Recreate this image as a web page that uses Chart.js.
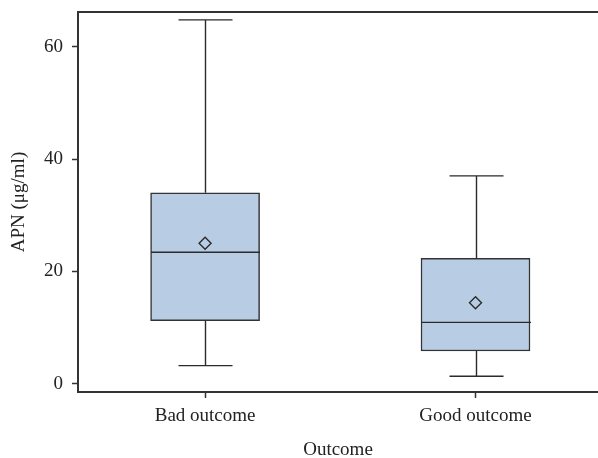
<!DOCTYPE html>
<html>
<head>
<meta charset="utf-8">
<script src="https://cdn.jsdelivr.net/npm/chart.js@4"></script>
<style>
  body { margin: 0; background: #fff; }
</style>
</head>
<body>
<canvas id="chart1" width="598" height="458"></canvas>
<script>
// data
const groups = ['Bad outcome', 'Good outcome'];
const groupPos = [1, 2];
const whiskerLow = [3.2, 1.3];
const q1 = [11.2, 5.8];
const median = [23.4, 10.9];
const q3 = [34.0, 22.3];
const whiskerHigh = [64.8, 37.0];
const means = [25.0, 14.4];
const yTicks = [0, 20, 40, 60];

const ink = '#2b2b2b';
const boxFill = '#b8cde4';
const boxWidth = 109;
const capHalf = 27;
const font = { family: '"Liberation Serif", "Times New Roman", serif', size: 19 };

// whiskers, caps, median lines + top frame line
const boxPlotLines = {
  id: 'boxPlotLines',
  afterDatasetsDraw(chart) {
    const ctx = chart.ctx;
    const xs = chart.scales.x;
    const ys = chart.scales.y;
    const area = chart.chartArea;
    ctx.save();
    ctx.strokeStyle = ink;
    ctx.lineWidth = 1.4;
    for (let i = 0; i < groups.length; i++) {
      const x = Math.round(xs.getPixelForValue(groupPos[i])) + 0.5;
      const yLow = ys.getPixelForValue(whiskerLow[i]);
      const yQ1 = ys.getPixelForValue(q1[i]);
      const yMed = ys.getPixelForValue(median[i]);
      const yQ3 = ys.getPixelForValue(q3[i]);
      const yHigh = ys.getPixelForValue(whiskerHigh[i]);
      ctx.beginPath();
      ctx.moveTo(x, yQ3); ctx.lineTo(x, yHigh);
      ctx.moveTo(x - capHalf, yHigh); ctx.lineTo(x + capHalf, yHigh);
      ctx.moveTo(x, yQ1); ctx.lineTo(x, yLow);
      ctx.moveTo(x - capHalf, yLow); ctx.lineTo(x + capHalf, yLow);
      ctx.moveTo(x - boxWidth / 2, yMed); ctx.lineTo(x + boxWidth / 2, yMed);
      ctx.stroke();
    }
    ctx.lineWidth = 2;
    ctx.strokeStyle = '#333';
    ctx.beginPath();
    ctx.moveTo(area.left, area.top);
    ctx.lineTo(chart.width, area.top);
    ctx.stroke();
    ctx.restore();
  }
};

const boxData = groups.map((g, i) => ({ x: groupPos[i], y: [q1[i], q3[i]] }));
const meanData = groups.map((g, i) => ({ x: groupPos[i], y: means[i] }));

function noLabelPadding(scale) {
  scale.paddingTop = 0;
  scale.paddingBottom = 0;
  scale.paddingLeft = 0;
  scale.paddingRight = 0;
}

const config = {
  type: 'bar',
  data: {
    datasets: [
      {
        type: 'scatter',
        data: meanData,
        pointStyle: 'rectRot',
        radius: 6,
        borderColor: ink,
        backgroundColor: 'rgba(0,0,0,0)',
        borderWidth: 1.4
      },
      {
        type: 'bar',
        data: boxData,
        backgroundColor: boxFill,
        borderColor: '#333',
        borderWidth: 1.5,
        borderSkipped: false,
        barThickness: boxWidth,
        grouped: false
      }
    ]
  },
  options: {
    responsive: false,
    animation: false,
    layout: { autoPadding: false, padding: { top: 12, right: 0, left: 0, bottom: -3 } },
    plugins: { legend: { display: false }, tooltip: { enabled: false } },
    scales: {
      x: {
        type: 'linear',
        offset: false,
        min: 0.53,
        max: 2.453,
        afterBuildTicks: (scale) => { scale.ticks = groupPos.map(v => ({ value: v })); },
        ticks: {
          callback: (v) => groups[groupPos.indexOf(v)],
          color: '#222',
          font: font,
          padding: 7,
          maxRotation: 0
        },
        grid: { offset: false, drawOnChartArea: false, drawTicks: true, tickLength: 6, tickColor: '#333', tickWidth: 1.5 },
        border: { display: true, color: '#333', width: 2 },
        title: { display: true, text: 'Outcome', color: '#222', font: font, padding: { top: 4, bottom: 0 } },
        afterFit: (scale) => { scale.height = 69; noLabelPadding(scale); }
      },
      y: {
        min: -1.5,
        max: 66.2,
        afterBuildTicks: (scale) => { scale.ticks = yTicks.map(v => ({ value: v })); },
        ticks: { color: '#222', font: font, padding: 9 },
        grid: { drawOnChartArea: false, drawTicks: true, tickLength: 6, tickColor: '#333', tickWidth: 1.5 },
        border: { display: true, color: '#333', width: 2 },
        title: { display: true, text: 'APN (μg/ml)', color: '#222', font: font, padding: { top: 8, bottom: 4 } },
        afterFit: (scale) => { scale.width = 78; noLabelPadding(scale); }
      }
    }
  },
  plugins: [boxPlotLines]
};

const myChart = new Chart(document.getElementById('chart1'), config);
</script>
</body>
</html>
